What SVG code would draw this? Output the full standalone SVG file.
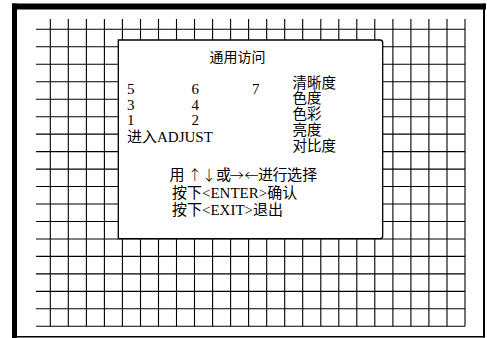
<svg xmlns="http://www.w3.org/2000/svg" width="487" height="338" viewBox="0 0 487 338">
<style>
.frame{fill:#000}
.grid line{stroke:#000;stroke-width:1.1}
.screen{fill:#fff;stroke:#000;stroke-width:1.3}
.t{font-family:"Liberation Serif","Noto Sans CJK SC",serif;fill:#000;font-size:15px}
.c{font-size:14.5px}
.a{font-family:"Noto Sans CJK SC","DejaVu Sans",sans-serif;font-size:14px;font-weight:300}
</style>
<rect width="487" height="338" fill="#fff"/>
<g id="frame">
<rect class="frame" x="12" y="3.5" width="5" height="334.5"/>
<rect class="frame" x="12" y="3.5" width="474" height="6"/>
<rect class="frame" x="483" y="3.5" width="2" height="334"/>
<rect class="frame" x="12" y="336" width="473" height="1.5"/>
</g>
<g id="grid" class="grid">
<line x1="50.3" y1="19" x2="50.3" y2="326.3"/>
<line x1="68.3" y1="19" x2="68.3" y2="326.3"/>
<line x1="86.4" y1="19" x2="86.4" y2="326.3"/>
<line x1="104.4" y1="19" x2="104.4" y2="326.3"/>
<line x1="122.4" y1="19" x2="122.4" y2="326.3"/>
<line x1="140.5" y1="19" x2="140.5" y2="326.3"/>
<line x1="158.5" y1="19" x2="158.5" y2="326.3"/>
<line x1="176.5" y1="19" x2="176.5" y2="326.3"/>
<line x1="194.5" y1="19" x2="194.5" y2="326.3"/>
<line x1="212.6" y1="19" x2="212.6" y2="326.3"/>
<line x1="230.6" y1="19" x2="230.6" y2="326.3"/>
<line x1="248.6" y1="19" x2="248.6" y2="326.3"/>
<line x1="266.7" y1="19" x2="266.7" y2="326.3"/>
<line x1="284.7" y1="19" x2="284.7" y2="326.3"/>
<line x1="302.7" y1="19" x2="302.7" y2="326.3"/>
<line x1="320.8" y1="19" x2="320.8" y2="326.3"/>
<line x1="338.8" y1="19" x2="338.8" y2="326.3"/>
<line x1="356.8" y1="19" x2="356.8" y2="326.3"/>
<line x1="374.8" y1="19" x2="374.8" y2="326.3"/>
<line x1="392.9" y1="19" x2="392.9" y2="326.3"/>
<line x1="410.9" y1="19" x2="410.9" y2="326.3"/>
<line x1="428.9" y1="19" x2="428.9" y2="326.3"/>
<line x1="447" y1="19" x2="447" y2="326.3"/>
<line x1="465" y1="19" x2="465" y2="326.3"/>
<line x1="36" y1="29.3" x2="465" y2="29.3"/>
<line x1="36" y1="46.8" x2="465" y2="46.8"/>
<line x1="36" y1="64.2" x2="465" y2="64.2"/>
<line x1="36" y1="81.7" x2="465" y2="81.7"/>
<line x1="36" y1="99.2" x2="465" y2="99.2"/>
<line x1="36" y1="116.7" x2="465" y2="116.7"/>
<line x1="36" y1="134.1" x2="465" y2="134.1"/>
<line x1="36" y1="151.6" x2="465" y2="151.6"/>
<line x1="36" y1="169.1" x2="465" y2="169.1"/>
<line x1="36" y1="186.5" x2="465" y2="186.5"/>
<line x1="36" y1="204" x2="465" y2="204"/>
<line x1="36" y1="221.5" x2="465" y2="221.5"/>
<line x1="36" y1="239" x2="465" y2="239"/>
<line x1="36" y1="256.4" x2="465" y2="256.4"/>
<line x1="36" y1="273.9" x2="465" y2="273.9"/>
<line x1="36" y1="291.4" x2="465" y2="291.4"/>
<line x1="36" y1="308.8" x2="465" y2="308.8"/>
<line x1="36" y1="326.3" x2="465" y2="326.3"/>
</g>
<g id="menu">
<path class="screen" d="M118.3 40 H380 Q382.7 40 382.7 42.7 V236 Q382.7 238.7 380 238.7 H118.3 Z"/>
<text class="t" x="237.5" y="62" text-anchor="middle" style="font-size:14px">通用访问</text>
<text class="t" x="127" y="94">5</text>
<text class="t" x="191.5" y="94">6</text>
<text class="t" x="252" y="94">7</text>
<text class="t" x="127" y="109.5">3</text>
<text class="t" x="191.5" y="109.5">4</text>
<text class="t" x="127" y="125">1</text>
<text class="t" x="191.5" y="125">2</text>
<text class="t" x="127" y="142">进入ADJUST</text>
<text class="t c" x="292.5" y="87.5">清晰度</text>
<text class="t c" x="292.5" y="103">色度</text>
<text class="t c" x="292.5" y="119">色彩</text>
<text class="t c" x="292.5" y="135">亮度</text>
<text class="t c" x="292.5" y="151">对比度</text>
<text class="t" y="179.5" text-anchor="middle"><tspan x="177">用</tspan><tspan class="a" x="194.7">↑</tspan><tspan class="a" x="209">↓</tspan><tspan x="223.5">或</tspan><tspan class="a" x="236.8">→</tspan><tspan class="a" x="251.5">←</tspan><tspan x="265.5 280 294.5 309.7">进行选择</tspan></text>
<text class="t" x="172" y="198">按下&lt;ENTER&gt;确认</text>
<text class="t" x="172" y="215">按下&lt;EXIT&gt;退出</text>
</g>
</svg>
